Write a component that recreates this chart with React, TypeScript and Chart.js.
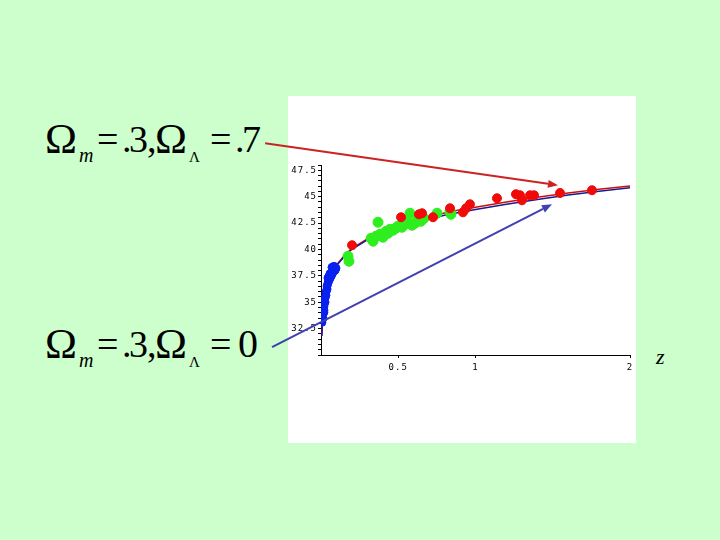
import React, { useEffect, useRef } from "react";
import { Chart, registerables } from "chart.js";

Chart.register(...registerables);

// Model curves (distance modulus vs redshift)
const curveZ = [0.005, 0.01, 0.02, 0.03, 0.05, 0.075, 0.1, 0.15, 0.2, 0.3, 0.4, 0.5, 0.6, 0.7, 0.8, 0.9, 1.0, 1.2, 1.4, 1.6, 1.8, 2.0];
const curveLambdaMu = [31.8, 33.3, 34.8, 35.7, 36.9, 37.8, 38.5, 39.4, 40.1, 41.0, 41.7, 42.3, 42.75, 43.1, 43.45, 43.75, 44.0, 44.5, 44.95, 45.35, 45.7, 46.0];
const curveOpenMu = [31.8, 33.3, 34.8, 35.7, 36.88, 37.77, 38.46, 39.34, 40.02, 40.9, 41.55, 42.12, 42.55, 42.9, 43.23, 43.53, 43.78, 44.28, 44.74, 45.15, 45.52, 45.85];

// Supernova data points
const redZ = [0.201, 0.518, 0.634, 0.654, 0.725, 0.835, 0.919, 0.939, 0.964, 1.139, 1.262, 1.288, 1.301, 1.353, 1.379, 1.547, 1.754];
const redMu = [40.4, 43.05, 43.33, 43.43, 43.05, 43.9, 43.52, 43.9, 44.28, 44.85, 45.23, 45.13, 44.66, 45.13, 45.13, 45.35, 45.61];

const greenZ = [0.175, 0.181, 0.324, 0.337, 0.356, 0.369, 0.382, 0.401, 0.421, 0.434, 0.447, 0.466, 0.485, 0.498, 0.524, 0.544, 0.563, 0.576, 0.589, 0.608, 0.628, 0.647, 0.667, 0.751, 0.835, 0.841];
const greenMu = [39.36, 38.88, 41.06, 40.78, 41.25, 42.58, 41.44, 41.16, 41.72, 41.53, 41.91, 41.82, 42.01, 42.2, 42.1, 42.39, 42.58, 43.43, 42.29, 42.48, 42.86, 42.67, 42.95, 43.43, 43.62, 43.33];

const blueZ = [0.006, 0.006, 0.013, 0.013, 0.019, 0.019, 0.019, 0.026, 0.026, 0.032, 0.032, 0.039, 0.039, 0.045, 0.052, 0.052, 0.058, 0.065, 0.071, 0.071, 0.078, 0.091, 0.097, 0.084, 0.045, 0.058];
const blueMu = [33.1, 33.5, 33.5, 33.9, 34.24, 34.05, 34.62, 35.0, 35.38, 35.66, 35.95, 36.23, 36.52, 36.8, 37.08, 37.46, 37.27, 37.46, 37.65, 38.3, 37.84, 38.03, 38.22, 38.4, 37.3, 37.7];

// Axis ticks
const xTickValues = [0.5, 1, 2];
const yTickLabels = [32.5, 35, 37.5, 40, 42.5, 45, 47.5];

// Annotation arrows (data coordinates: [z, mu])
const lambdaArrow = [[-0.362, 50.06], [1.534, 46.08]];
const openArrow = [[-0.317, 30.74], [1.495, 44.28]];

const pts = (xs: number[], ys: number[]) => xs.map((x, i) => ({ x, y: ys[i] }));

const arrowPlugin = {
  id: "arrows",
  beforeUpdate(chart: any) {
    chart.ctx.letterSpacing = "1px";
  },
  beforeDraw(chart: any) {
    chart.ctx.letterSpacing = "1px";
  },
  afterDraw(chart: any) {
    const ctx = chart.ctx;
    const xs = chart.scales.x;
    const ys = chart.scales.y;
    const draw = (a: number[][], color: string) => {
      const x0 = xs.getPixelForValue(a[0][0]);
      const y0 = ys.getPixelForValue(a[0][1]);
      const x1 = xs.getPixelForValue(a[1][0]);
      const y1 = ys.getPixelForValue(a[1][1]);
      const ang = Math.atan2(y1 - y0, x1 - x0);
      const hl = 10, hw = 4;
      const bx = x1 - hl * Math.cos(ang);
      const by = y1 - hl * Math.sin(ang);
      ctx.save();
      ctx.strokeStyle = color;
      ctx.fillStyle = color;
      ctx.lineWidth = 2;
      ctx.beginPath();
      ctx.moveTo(x0, y0);
      ctx.lineTo(bx, by);
      ctx.stroke();
      ctx.beginPath();
      ctx.moveTo(x1, y1);
      ctx.lineTo(bx + hw * Math.sin(ang), by - hw * Math.cos(ang));
      ctx.lineTo(bx - hw * Math.sin(ang), by + hw * Math.cos(ang));
      ctx.closePath();
      ctx.fill();
      ctx.restore();
    };
    draw(lambdaArrow, "#cc2222");
    draw(openArrow, "#4040b0");
  },
};

const serif = '"Liberation Serif", "Times New Roman", serif';

function Formula({ top, lambdaZero }: { top: number; lambdaZero: boolean }) {
  const big = { position: "absolute" as const, top: top + 3, fontFamily: serif, fontSize: 38, lineHeight: 1, whiteSpace: "nowrap" as const, color: "#000" };
  const omega = { ...big, top, fontSize: 43 };
  const sub = { position: "absolute" as const, top: top + 28, fontFamily: serif, lineHeight: 1, whiteSpace: "nowrap" as const, color: "#000" };
  return (
    <>
      <span style={{ ...omega, left: 45 }}>Ω</span>
      <span style={{ ...sub, left: 79, fontSize: 20, fontStyle: "italic" }}>m</span>
      <span style={{ ...big, left: 97 }}>=</span>
      <span style={{ ...big, left: 122 }}>.</span>
      <span style={{ ...big, left: 129 }}>3</span>
      <span style={{ ...big, left: 147 }}>,</span>
      <span style={{ ...omega, left: 155 }}>Ω</span>
      <span style={{ ...sub, left: 189, fontSize: 15, top: top + 33 }}>Λ</span>
      <span style={{ ...big, left: 210 }}>=</span>
      {lambdaZero ? (
        <span style={{ ...big, left: 238, fontSize: 40, top: top + 2 }}>0</span>
      ) : (
        <>
          <span style={{ ...big, left: 235 }}>.</span>
          <span style={{ ...big, left: 242 }}>7</span>
        </>
      )}
    </>
  );
}

export default function App() {
  const ref = useRef<HTMLCanvasElement | null>(null);

  useEffect(() => {
    if (!ref.current) return;
    const minorTicks: { value: number }[] = [];
    for (let v = 30; v <= 48.0001; v += 0.5) minorTicks.push({ value: Math.round(v * 10) / 10 });

    const chart = new Chart(ref.current, {
      type: "scatter",
      data: {
        datasets: [
          {
            label: "Omega_L = .7",
            data: pts(curveZ, curveLambdaMu),
            showLine: true,
            borderColor: "#c81010",
            borderWidth: 1.5,
            pointRadius: 0,
            order: 6,
          },
          {
            label: "Omega_L = 0",
            data: pts(curveZ, curveOpenMu),
            showLine: true,
            borderColor: "#1a1a90",
            borderWidth: 1.5,
            pointRadius: 0,
            order: 5,
          },
          {
            label: "blue",
            data: pts(blueZ, blueMu),
            backgroundColor: "#0a22ee",
            borderColor: "#0a22ee",
            pointRadius: 4,
            order: 3,
          },
          {
            label: "green",
            data: pts(greenZ, greenMu),
            backgroundColor: "#2eee1e",
            borderColor: "#2eee1e",
            pointRadius: 5,
            order: 2,
          },
          {
            label: "red",
            data: pts(redZ, redMu),
            backgroundColor: "#f00a0a",
            borderColor: "#f00a0a",
            pointRadius: 4.5,
            order: 1,
          },
        ],
      },
      options: {
        animation: false,
        responsive: false,
        layout: { padding: { left: 288, right: 90, top: 165, bottom: 160 } },
        plugins: { legend: { display: false }, tooltip: { enabled: false } },
        scales: {
          x: {
            type: "linear",
            min: 0,
            max: 2,
            afterBuildTicks: (s: any) => {
              s.ticks = xTickValues.map((v) => ({ value: v }));
            },
            afterFit: (s: any) => {
              s.height = 25;
              s.paddingLeft = 0;
              s.paddingRight = 0;
            },
            ticks: {
              autoSkip: false,
              maxRotation: 0,
              color: "#000",
              padding: 4,
              font: { family: '"DejaVu Sans Mono", monospace', size: 9 },
              callback: (v: any) => String(v),
            },
            grid: { drawOnChartArea: false, drawTicks: true, tickLength: 3, color: "#000" },
            border: { display: true, color: "#000", width: 1 },
          },
          y: {
            type: "linear",
            min: 30,
            max: 48,
            afterBuildTicks: (s: any) => {
              s.ticks = minorTicks.map((t) => ({ ...t }));
            },
            afterFit: (s: any) => {
              s.width = 33;
              s.paddingTop = 0;
              s.paddingBottom = 0;
            },
            ticks: {
              autoSkip: false,
              color: "#000",
              padding: 1,
              font: { family: '"DejaVu Sans Mono", monospace', size: 9 },
              callback: (v: any) => (yTickLabels.includes(Number(v)) ? String(v) : ""),
            },
            grid: { drawOnChartArea: false, drawTicks: true, tickLength: 3, color: "#000" },
            border: { display: true, color: "#000", width: 1 },
          },
        },
      },
      plugins: [arrowPlugin],
    } as any);
    return () => chart.destroy();
  }, []);

  return (
    <div style={{ position: "absolute", left: 0, top: 0, width: 720, height: 540, background: "#ccffcc", overflow: "hidden" }}>
      <div style={{ position: "absolute", left: 288, top: 96, width: 348, height: 347, background: "#ffffff" }} />
      <Formula top={117} lambdaZero={false} />
      <Formula top={322} lambdaZero={true} />
      <span style={{ position: "absolute", left: 656, top: 346, fontFamily: serif, fontSize: 22, fontStyle: "italic", lineHeight: 1 }}>z</span>
      <canvas ref={ref} width={720} height={540} style={{ position: "absolute", left: 0, top: 0, width: 720, height: 540 }} />
    </div>
  );
}
